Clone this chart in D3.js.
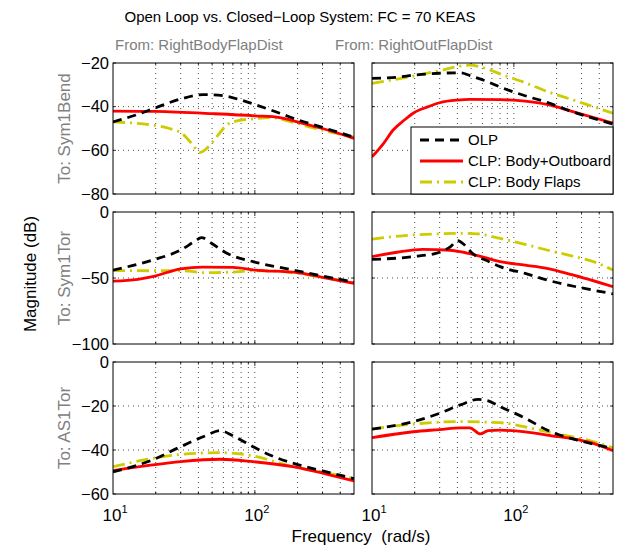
<!DOCTYPE html>
<html>
<head>
<meta charset="utf-8">
<script src="https://cdn.jsdelivr.net/npm/d3@7"></script>
<style>
  body { margin: 0; background: #fff; }
  svg { font-family: "Liberation Sans", Arial, Helvetica, sans-serif; }
</style>
</head>
<body>
<svg id="chart" width="624" height="550"></svg>
<script>
// data: [freq rad/s, magnitude dB]
var olp_body_bend = [[10,-47],[15,-43.5],[20,-40.5],[30,-36.5],[43,-34.5],[60,-35],[80,-37],[100,-39],[150,-43],[200,-46],[300,-49.5],[500,-54]];
var clp_body_bend = [[10,-42],[20,-42.2],[50,-43.2],[100,-44.2],[150,-45],[200,-47],[300,-50],[500,-54.5]];
var flp_body_bend = [[10,-47],[19,-48.5],[25,-50],[31,-52.5],[36,-57],[41,-61],[46,-59],[55,-53],[63,-48.5],[75,-46.5],[97,-45.6],[130,-45],[170,-46.5],[250,-49.5],[500,-54]];

var olp_out_bend = [[10,-27],[15,-26.5],[20,-25.5],[30,-24.7],[42,-24.5],[50,-26],[65,-28.5],[80,-31],[120,-35],[171,-38],[250,-42],[350,-45],[500,-48]];
var clp_out_bend = [[10,-63],[12,-57],[14.1,-50.7],[17,-46],[19.5,-43],[25,-40],[30,-38.2],[40,-37],[49,-36.7],[80,-36.8],[120,-37.5],[171,-39],[260,-42.3],[500,-47.5]];
var flp_out_bend = [[10,-29.3],[19.5,-26],[30,-23.5],[42,-21.4],[49,-21],[60,-22],[84,-25.5],[120,-29],[171,-33],[250,-36.5],[363,-40],[500,-43]];

var olp_body_tor = [[10,-44],[19,-36.4],[30,-28.8],[38,-22],[42,-19.4],[50,-24],[63,-31],[97,-37.6],[150,-42],[207,-45],[300,-48.5],[500,-53]];
var clp_body_tor = [[10,-52.3],[15,-51],[19,-49],[30,-43],[43,-41.7],[70,-42],[100,-44],[200,-46],[300,-49.5],[500,-54]];
var flp_body_tor = [[10,-44.4],[20,-44.5],[30,-44.5],[46,-46],[70,-45.5],[100,-44.5],[150,-45],[200,-46.5],[300,-49.5],[500,-53.5]];

var olp_out_tor = [[10,-35.9],[19.5,-33.8],[30,-30.5],[36,-26],[40,-21.7],[45,-25],[51,-31.3],[65,-37],[80,-41.4],[120,-46.5],[171,-51.5],[300,-57.5],[500,-62]];
var clp_out_tor = [[10,-33.8],[15,-30.5],[22.8,-28.3],[33.7,-28.8],[41.6,-30],[60,-34],[80,-37.6],[120,-40.3],[171,-42.7],[256,-47.5],[500,-56.6]];
var flp_out_tor = [[10,-20.5],[19.5,-17.4],[30,-16.5],[42,-16.2],[55,-16.5],[80,-20],[120,-24.5],[171,-28.8],[250,-33],[363,-37.6],[500,-44]];

var olp_body_as1 = [[10,-49.9],[19,-44.5],[30,-38.5],[45,-33.5],[57,-31.2],[70,-33.5],[97,-38.5],[130,-42.5],[185,-46],[300,-49.5],[500,-53]];
var clp_body_as1 = [[10,-49.4],[19,-46.8],[30,-45.3],[57,-44.2],[97,-45.3],[185,-47.6],[300,-50.5],[500,-54.1]];
var flp_body_as1 = [[10,-47.6],[19,-43.8],[30,-42],[57,-41.2],[97,-42.7],[185,-47.6],[300,-50],[500,-53]];

var olp_out_as1 = [[10,-30.5],[19.5,-27.1],[30,-23.3],[42,-19.5],[56,-17],[65,-17.5],[80,-20.3],[120,-25.5],[171,-30.9],[300,-36],[500,-39.2]];
var clp_out_as1 = [[10,-34.4],[19.5,-31.7],[30,-30.7],[42,-29.9],[49,-29.9],[58,-32.7],[66,-31.2],[80,-31],[120,-31.8],[171,-33.2],[363,-37],[500,-40.3]];
var flp_out_as1 = [[10,-30.5],[19.5,-28.2],[42,-27.1],[80,-27.6],[120,-29.5],[171,-31.7],[363,-36.2],[500,-39]];

var inputs = ["From: RightBodyFlapDist", "From: RightOutFlapDist"];
var outputs = ["To: Sym1Bend", "To: Sym1Tor", "To: AS1Tor"];
var yDomains = [[-80, -20], [-100, 0], [-60, 0]];
var yTicks = [[-80, -60, -40, -20], [-100, -50, 0], [-60, -40, -20, 0]];
var legendNames = ["OLP", "CLP: Body+Outboard", "CLP: Body Flaps"];

var panels = [
  [[olp_body_bend, clp_body_bend, flp_body_bend], [olp_out_bend, clp_out_bend, flp_out_bend]],
  [[olp_body_tor, clp_body_tor, flp_body_tor], [olp_out_tor, clp_out_tor, flp_out_tor]],
  [[olp_body_as1, clp_body_as1, flp_body_as1], [olp_out_as1, clp_out_as1, flp_out_as1]]
];

var colX = [[113, 354], [372, 613]];
var rowY = [[63, 194], [212, 344], [362, 494]];

var styles = [
  {stroke: "#000", dash: "9,6"},
  {stroke: "#ff0000", dash: null},
  {stroke: "#cccc00", dash: "12,5,2,5"}
];

var svg = d3.select("#chart");
var minus = function(v) { return String(v).replace("-", "\u2212"); };

var gridFreqs = [20,30,40,50,60,70,80,90,100,200,300,400];

panels.forEach(function(row, r) {
  row.forEach(function(series, c) {
    var x = d3.scaleLog().domain([10, 500]).range(colX[c]);
    var y = d3.scaleLinear().domain(yDomains[r]).range([rowY[r][1], rowY[r][0]]);
    var g = svg.append("g");
    var id = "clip" + r + c;
    svg.append("clipPath").attr("id", id).append("rect")
      .attr("x", colX[c][0]).attr("y", rowY[r][0])
      .attr("width", colX[c][1] - colX[c][0]).attr("height", rowY[r][1] - rowY[r][0]);

    // grid
    g.selectAll(".vg").data(gridFreqs).enter().append("line")
      .attr("x1", function(d) { return x(d); }).attr("x2", function(d) { return x(d); })
      .attr("y1", rowY[r][0]).attr("y2", rowY[r][1])
      .attr("stroke", "#000").attr("stroke-width", 0.7).attr("stroke-dasharray", "1,4");
    g.selectAll(".hg").data(yTicks[r].slice(1, -1)).enter().append("line")
      .attr("x1", colX[c][0]).attr("x2", colX[c][1])
      .attr("y1", function(d) { return y(d); }).attr("y2", function(d) { return y(d); })
      .attr("stroke", "#000").attr("stroke-width", 0.7).attr("stroke-dasharray", "1,4");

    // inward ticks
    g.selectAll(".xt").data(gridFreqs).enter().append("path")
      .attr("d", function(d) {
        var len = d === 100 ? 4 : 2.5;
        return "M" + x(d) + "," + rowY[r][1] + "v" + (-len) + "M" + x(d) + "," + rowY[r][0] + "v" + len;
      })
      .attr("stroke", "#000").attr("stroke-width", 0.8);
    g.selectAll(".yt").data(yTicks[r]).enter().append("path")
      .attr("d", function(d) {
        return "M" + colX[c][0] + "," + y(d) + "h3M" + colX[c][1] + "," + y(d) + "h-3";
      })
      .attr("stroke", "#000").attr("stroke-width", 0.8);

    var line = d3.line()
      .x(function(d) { return x(d[0]); })
      .y(function(d) { return y(d[1]); })
      .curve(d3.curveMonotoneX);

    var lg = svg.append("g").attr("clip-path", "url(#" + id + ")");
    [2, 1, 0].forEach(function(k) {
      lg.append("path").datum(series[k])
        .attr("d", line)
        .attr("fill", "none")
        .attr("stroke", styles[k].stroke)
        .attr("stroke-width", 2.8)
        .attr("stroke-dasharray", styles[k].dash);
    });

    // box
    svg.append("rect")
      .attr("x", colX[c][0]).attr("y", rowY[r][0])
      .attr("width", colX[c][1] - colX[c][0]).attr("height", rowY[r][1] - rowY[r][0])
      .attr("fill", "none").attr("stroke", "#000").attr("stroke-width", 1);

    if (c === 0) {
      var ya = d3.axisLeft(y).tickValues(yTicks[r]).tickSize(0).tickPadding(4).tickFormat(minus);
      var ag = svg.append("g").attr("transform", "translate(" + colX[0][0] + ",0)").call(ya);
      ag.select(".domain").remove();
      ag.selectAll("text").attr("font-size", 16.5).attr("fill", "#000")
        .attr("font-family", "Liberation Sans, Arial, sans-serif");
      svg.append("text")
        .attr("transform", "translate(70," + ((rowY[r][0] + rowY[r][1]) / 2) + ") rotate(-90)")
        .attr("text-anchor", "middle")
        .attr("fill", "#808080").attr("font-size", 17)
        .text(outputs[r]);
    }
    if (r === 2) {
      var xg = svg.append("g");
      [10, 100].forEach(function(v) {
        var t = xg.append("text").attr("x", x(v) + 2).attr("y", 521)
          .attr("text-anchor", "middle").attr("font-size", 17);
        t.append("tspan").text("10");
        t.append("tspan").attr("dy", -8).attr("font-size", 11).text(v === 10 ? "1" : "2");
      });
    }
  });
});

// column headers
svg.append("text").attr("x", 115).attr("y", 50).attr("fill", "#808080").attr("font-size", 15).text(inputs[0]);
svg.append("text").attr("x", 335).attr("y", 50).attr("fill", "#808080").attr("font-size", 15).text(inputs[1]);

// title
svg.append("text").attr("x", 300).attr("y", 22).attr("text-anchor", "middle")
  .attr("font-size", 15).attr("fill", "#000")
  .text("Open Loop vs. Closed\u2212Loop System: FC = 70 KEAS");

svg.append("text").attr("x", 361).attr("y", 542).attr("text-anchor", "middle")
  .attr("font-size", 17).attr("fill", "#000").attr("xml:space", "preserve")
  .text("Frequency  (rad/s)");

svg.append("text").attr("transform", "translate(36,274) rotate(-90)")
  .attr("text-anchor", "middle").attr("font-size", 17).attr("fill", "#000")
  .text("Magnitude (dB)");

// legend
var lx = 411, ly = 127, lw = 202, lh = 67;
var leg = svg.append("g");
leg.append("rect").attr("x", lx).attr("y", ly).attr("width", lw).attr("height", lh)
  .attr("fill", "#fff").attr("stroke", "#000").attr("stroke-width", 1);
legendNames.forEach(function(name, k) {
  var yy = ly + 13 + k * 21;
  leg.append("line").attr("x1", lx + 9).attr("x2", lx + 52).attr("y1", yy).attr("y2", yy)
    .attr("stroke", styles[k].stroke).attr("stroke-width", 2.8)
    .attr("stroke-dasharray", styles[k].dash);
  leg.append("text").attr("x", lx + 57).attr("y", yy + 5).attr("font-size", 15)
    .attr("fill", "#000").text(name);
});
</script>
</body>
</html>
